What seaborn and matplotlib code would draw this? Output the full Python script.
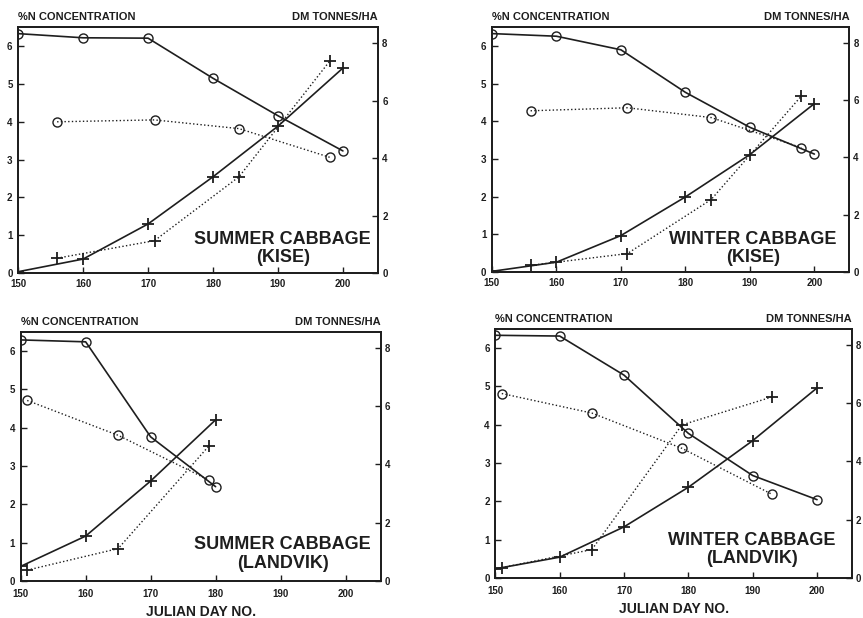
import matplotlib
matplotlib.use('Agg')
import matplotlib.pyplot as plt
import seaborn as sns

# days of the two sampling series
days_solid = [150, 160, 170, 180, 190, 200]
days_dot_kise = [156, 171, 184, 198]
days_solid_landvik = [150, 160, 170, 180]
days_dot_sl = [151, 165, 179]
days_dot_wl = [151, 165, 179, 193]

# summer cabbage (kise)
sk_n_solid = [6.33, 6.22, 6.21, 5.15, 4.16, 3.23]
sk_n_dot = [4.00, 4.05, 3.82, 3.06]
sk_dm_solid = [0.05, 0.49, 1.71, 3.35, 5.11, 7.13]
sk_dm_dot = [0.52, 1.13, 3.35, 7.38]

# winter cabbage (kise)
wk_n_solid = [6.33, 6.26, 5.90, 4.77, 3.84, 3.13]
wk_n_dot = [4.28, 4.36, 4.10, 3.30]
wk_dm_solid = [0.02, 0.34, 1.27, 2.62, 4.10, 5.88]
wk_dm_dot = [0.23, 0.64, 2.53, 6.15]

# summer cabbage (landvik)
sl_n_solid = [6.29, 6.24, 3.76, 2.46]
sl_n_dot = [4.71, 3.80, 2.63]
sl_dm_solid = [0.50, 1.54, 3.43, 5.53]
sl_dm_dot = [0.37, 1.11, 4.64]

# winter cabbage (landvik)
wl_n_solid = [6.33, 6.31, 5.29, 3.77, 2.67, 2.04]
wl_n_dot = [4.81, 4.30, 3.38, 2.18]
wl_dm_solid = [0.31, 0.71, 1.75, 3.11, 4.71, 6.52]
wl_dm_dot = [0.35, 0.97, 5.25, 6.21]

x_ticks = [150, 160, 170, 180, 190, 200]
n_ticks = [0, 1, 2, 3, 4, 5, 6]
dm_ticks = [0, 2, 4, 6, 8]

sns.set_style('ticks')
plt.rcParams['font.family'] = ['Liberation Sans', 'DejaVu Sans']
plt.rcParams['font.weight'] = 'bold'

ink = '#1e1e1e'

panels = [
    dict(pos=[0.021, 0.558, 0.417, 0.398], title='SUMMER CABBAGE\n(KISE)', tx=0.735, ty=0.10,
         ds=days_solid, dd=days_dot_kise, ns=sk_n_solid, nd=sk_n_dot, ms=sk_dm_solid, md=sk_dm_dot, xl=False),
    dict(pos=[0.570, 0.560, 0.414, 0.396], title='WINTER CABBAGE\n(KISE)', tx=0.73, ty=0.097,
         ds=days_solid, dd=days_dot_kise, ns=wk_n_solid, nd=wk_n_dot, ms=wk_dm_solid, md=wk_dm_dot, xl=False),
    dict(pos=[0.024, 0.060, 0.417, 0.403], title='SUMMER CABBAGE\n(LANDVIK)', tx=0.728, ty=0.108,
         ds=days_solid_landvik, dd=days_dot_sl, ns=sl_n_solid, nd=sl_n_dot, ms=sl_dm_solid, md=sl_dm_dot, xl=True),
    dict(pos=[0.574, 0.065, 0.413, 0.403], title='WINTER CABBAGE\n(LANDVIK)', tx=0.72, ty=0.115,
         ds=days_solid, dd=days_dot_wl, ns=wl_n_solid, nd=wl_n_dot, ms=wl_dm_solid, md=wl_dm_dot, xl=True),
]

fig = plt.figure(figsize=(8.63, 6.18), dpi=100)

for p in panels:
    ax = fig.add_axes(p['pos'])
    ax2 = ax.twinx()

    # %N concentration: circles on the left axis
    sns.lineplot(x=p['ds'], y=p['ns'], ax=ax, color=ink, lw=1.2, marker='o', ms=6.5,
                 mfc='none', mec=ink, mew=1.0)
    sns.lineplot(x=p['dd'], y=p['nd'], ax=ax, color=ink, lw=1.0, linestyle=':', marker='o', ms=6.5,
                 mfc='none', mec=ink, mew=1.0)
    # dry matter: crosses on the right axis
    sns.lineplot(x=p['ds'], y=p['ms'], ax=ax2, color=ink, lw=1.2, marker='+', ms=9,
                 mec=ink, mew=1.3)
    sns.lineplot(x=p['dd'], y=p['md'], ax=ax2, color=ink, lw=1.0, linestyle=':', marker='+', ms=9,
                 mec=ink, mew=1.3)

    ax.set_xlim(150, 205.4)
    ax.set_ylim(0, 6.5)
    ax2.set_ylim(0, 8.55)
    ax.set_xticks(x_ticks)
    ax.set_yticks(n_ticks)
    ax2.set_yticks(dm_ticks)

    for a in (ax, ax2):
        for s in a.spines.values():
            s.set_linewidth(1.3)
            s.set_color(ink)
        a.tick_params(direction='in', length=4, width=1, labelsize=7, pad=3, colors=ink)
    ax.tick_params(axis='x', pad=6 if p['xl'] else 4.5)
    ax.tick_params(axis='y', pad=4)
    ax2.set_ylabel('')
    ax.set_ylabel('')

    ax.text(0.0, 1.02, '%N CONCENTRATION', transform=ax.transAxes, fontsize=8,
            fontweight='bold', ha='left', va='bottom', color=ink)
    ax.text(1.0, 1.02, 'DM TONNES/HA', transform=ax.transAxes, fontsize=8,
            fontweight='bold', ha='right', va='bottom', color=ink)
    ax.text(p['tx'], p['ty'], p['title'], transform=ax.transAxes, fontsize=13,
            fontweight='bold', ha='center', va='center',
            multialignment='center', linespacing=1.1, color=ink)

    if p['xl']:
        ax.set_xlabel('JULIAN DAY NO.', fontsize=10, fontweight='bold', labelpad=4, color=ink)
    else:
        ax.set_xlabel('')

fig.savefig('out.png', dpi=100, facecolor='white')
